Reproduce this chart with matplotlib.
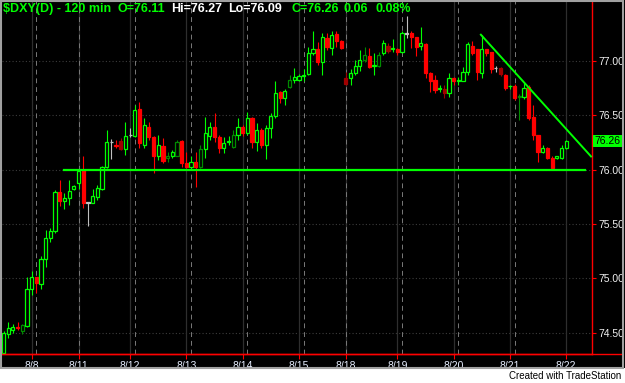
import numpy as np
import matplotlib
matplotlib.use("Agg")
import matplotlib.pyplot as plt
from matplotlib.lines import Line2D
from matplotlib.patches import Rectangle
from matplotlib.transforms import blended_transform_factory

plt.rcParams['font.family'] = ['Liberation Sans', 'DejaVu Sans']

# 120-min bars, $DXY(D)
OPEN = [74.31, 74.49, 74.52, 74.55, 74.51, 74.56, 74.90, 75.01, 74.95, 75.18,
        75.37, 75.43, 75.79, 75.71, 75.74, 75.82, 75.88, 76.00, 75.70, 75.69,
        75.75, 75.82, 76.02, 76.25, 76.23, 76.26, 76.19, 76.32, 76.31, 76.56,
        76.23, 76.39, 76.30, 76.12, 76.22, 76.11, 76.12, 76.12, 76.26, 76.06,
        76.02, 76.07, 76.02, 76.19, 76.31, 76.39, 76.30, 76.20, 76.25, 76.21,
        76.32, 76.39, 76.34, 76.47, 76.25, 76.36, 76.23, 76.38, 76.49, 76.71,
        76.66, 76.76, 76.82, 76.82, 76.86, 76.88, 77.07, 77.11, 76.99, 77.21,
        77.12, 77.25, 77.18, 76.84, 76.84, 76.89, 76.95, 77.01, 77.04, 76.95,
        76.95, 77.07, 77.14, 77.11, 77.11, 77.08, 77.26, 77.26, 77.22, 77.14,
        77.15, 76.89, 76.82, 76.74, 76.74, 76.70, 76.84, 76.81, 76.81, 76.90,
        77.14, 77.11, 76.89, 77.11, 77.08, 76.93, 76.93, 76.87, 76.77, 76.77,
        76.67, 76.67, 76.76, 76.48, 76.32, 76.16, 76.20, 76.11, 76.11, 76.11,
        76.20]
HIGH = [74.51, 74.60, 74.58, 74.60, 74.58, 75.01, 75.07, 75.01, 75.20, 75.44,
        75.46, 75.81, 75.90, 75.78, 75.90, 75.86, 76.00, 76.12, 75.70, 75.82,
        75.86, 76.03, 76.36, 76.28, 76.27, 76.29, 76.44, 76.38, 76.59, 76.62,
        76.47, 76.44, 76.31, 76.32, 76.29, 76.16, 76.18, 76.27, 76.27, 76.16,
        76.12, 76.16, 76.23, 76.48, 76.44, 76.52, 76.32, 76.30, 76.31, 76.36,
        76.47, 76.41, 76.53, 76.48, 76.43, 76.38, 76.41, 76.52, 76.81, 76.72,
        76.74, 76.87, 76.93, 76.88, 76.92, 77.13, 77.27, 77.17, 77.26, 77.26,
        77.27, 77.27, 77.19, 76.90, 76.92, 77.01, 77.10, 77.13, 77.12, 77.07,
        77.08, 77.19, 77.16, 77.20, 77.12, 77.27, 77.41, 77.27, 77.22, 77.31,
        77.16, 76.90, 76.87, 76.78, 76.78, 76.89, 76.85, 76.85, 76.94, 77.17,
        77.18, 77.11, 77.24, 77.11, 77.08, 76.95, 76.94, 76.88, 76.78, 76.79,
        76.69, 76.80, 76.78, 76.59, 76.32, 76.23, 76.21, 76.12, 76.12, 76.23,
        76.27]
LOW = [74.31, 74.45, 74.50, 74.52, 74.49, 74.55, 74.85, 74.86, 74.90, 75.10,
       75.33, 75.42, 75.66, 75.64, 75.67, 75.81, 75.82, 75.65, 75.48, 75.69,
       75.72, 75.81, 76.01, 76.10, 76.20, 76.18, 76.13, 76.30, 76.30, 76.20,
       76.20, 76.27, 75.97, 76.09, 76.06, 76.07, 76.11, 76.12, 76.02, 76.01,
       76.01, 75.84, 76.01, 76.11, 76.27, 76.25, 76.15, 76.15, 76.23, 76.20,
       76.27, 76.31, 76.32, 76.20, 76.17, 76.20, 76.10, 76.29, 76.47, 76.61,
       76.59, 76.75, 76.80, 76.81, 76.81, 76.87, 77.05, 76.96, 76.87, 77.10,
       77.05, 77.13, 77.11, 76.78, 76.78, 76.87, 76.91, 76.99, 76.93, 76.87,
       76.94, 77.05, 77.07, 77.08, 77.05, 77.07, 77.21, 77.12, 77.04, 77.10,
       76.84, 76.71, 76.70, 76.71, 76.66, 76.67, 76.78, 76.78, 76.81, 76.87,
       77.05, 76.82, 76.84, 77.04, 76.89, 76.90, 76.86, 76.73, 76.74, 76.64,
       76.46, 76.65, 76.46, 76.27, 76.07, 76.15, 76.10, 76.00, 76.10, 76.10,
       76.19]
CLOSE = [74.50, 74.54, 74.55, 74.54, 74.57, 74.90, 75.01, 74.96, 75.18, 75.37,
         75.43, 75.79, 75.71, 75.74, 75.80, 75.85, 75.99, 75.69, 75.69, 75.76,
         75.83, 76.02, 76.25, 76.25, 76.22, 76.19, 76.31, 76.32, 76.55, 76.24,
         76.41, 76.30, 76.12, 76.23, 76.08, 76.12, 76.16, 76.25, 76.06, 76.02,
         76.07, 76.02, 76.19, 76.34, 76.39, 76.30, 76.20, 76.24, 76.26, 76.32,
         76.39, 76.34, 76.47, 76.25, 76.36, 76.23, 76.38, 76.49, 76.70, 76.66,
         76.72, 76.82, 76.85, 76.86, 76.87, 77.07, 77.11, 76.99, 77.22, 77.13,
         77.24, 77.18, 77.12, 76.79, 76.89, 76.95, 77.01, 77.05, 76.94, 76.96,
         77.05, 77.16, 77.09, 77.12, 77.08, 77.26, 77.25, 77.22, 77.13, 77.16,
         76.89, 76.81, 76.73, 76.75, 76.70, 76.84, 76.81, 76.82, 76.90, 77.15,
         77.07, 76.90, 77.11, 77.07, 76.92, 76.93, 76.88, 76.75, 76.77, 76.66,
         76.68, 76.75, 76.47, 76.32, 76.16, 76.20, 76.11, 76.01, 76.12, 76.20,
         76.26]
# g = up, d = up (dark), r = down, m = down (dark), w = unchanged
KIND = list(("gggrdggrgg ggrggggrwg gggwrmgwgr grrgrdgdrr grdggrrggd "
             "grgrgrgggr gdgggggrgr grrmgggdrg dgmgrgwrrg rrrgmgrggg "
             "rrgrrwmrgr dgrrrgrrggg").replace(" ", ""))

DATE_POS = [6, 16, 27, 39, 51, 63, 73, 84, 96, 108, 120]
DATE_LABELS = ["8/8", "8/11", "8/12", "8/13", "8/14", "8/15",
               "8/18", "8/19", "8/20", "8/21", "8/22"]
SESSION_POS = [7, 16, 28, 40, 52, 64, 73, 85, 97, 109]
PRICE_TICKS = [74.50, 75.00, 75.50, 76.00, 76.50, 77.00]

SUPPORT_X = [12.9, 124.0]
SUPPORT_Y = [76.00, 76.00]
TREND_X = [101.8, 125.3]
TREND_Y = [77.24, 76.12]

COLORS = {"g": "#00ff00", "d": "#008c00", "r": "#ff0000",
          "m": "#a00000", "w": "#c0c0c0"}

W, H = 625, 383
fig = plt.figure(figsize=(W / 100, H / 100), dpi=100, facecolor="black")

# white strip at the bottom
fig.patches.append(Rectangle((0, 0), 1, 15 / H, transform=fig.transFigure,
                             facecolor="white", edgecolor="none", zorder=0))
fig.patches.append(Rectangle((0.5 / W, 15 / H), (W - 3) / W, (H - 15.5) / H,
                             transform=fig.transFigure, facecolor="none",
                             edgecolor="#a0a0a0", lw=1.5, zorder=5))

ax = fig.add_axes([2 / W, (H - 354) / H, 590 / W, 353 / H])
ax.set_facecolor("black")
ax.set_xlim(-0.32, 125.5)
ax.set_ylim(74.303, 77.55)

for p in PRICE_TICKS:
    ax.axhline(p, color="#3c3c3c", lw=0.8, ls=(0, (1, 2)), zorder=1)
for p in DATE_POS:
    ax.axvline(p, color="#2e2e2e", lw=0.9, zorder=1)
for p in SESSION_POS:
    ax.axvline(p, color="#7a7a7a", lw=0.7, ls=(0, (5, 4)), zorder=1)

n = len(CLOSE)
x = np.arange(n)
o = np.array(OPEN)
c = np.array(CLOSE)
cols = [COLORS[k] for k in KIND[:n]]
ax.vlines(x, LOW, HIGH, colors=cols, lw=0.8, zorder=2)
bottom = np.minimum(o, c)
height = np.maximum(np.abs(c - o), 0.002)
face = ["black" if k in "gdw" else COLORS[k] for k in KIND[:n]]
ax.bar(x, height, bottom=bottom, width=0.68, color=face, edgecolor=cols,
       lw=0.9, zorder=3)

ax.plot(SUPPORT_X, SUPPORT_Y, color="#00ff00", lw=1.6, zorder=4)
ax.plot(TREND_X, TREND_Y, color="#00ff00", lw=1.4, zorder=4, clip_on=False)

for s in ["left", "top"]:
    ax.spines[s].set_visible(False)
ax.spines["right"].set_color("#ff0000")
ax.spines["bottom"].set_color("#ff0000")
ax.spines["right"].set_linewidth(1)
ax.spines["bottom"].set_linewidth(1)

ax.yaxis.tick_right()
ax.set_yticks(PRICE_TICKS)
ax.set_yticklabels([f"{p:.2f}" for p in PRICE_TICKS])
ax.tick_params(axis="y", colors="#ff0000", labelcolor="#f0f0f0", length=3,
               width=0.8, pad=1.5, labelsize=7.5)
ax.set_xticks(DATE_POS)
ax.set_xticklabels(DATE_LABELS)
ax.tick_params(axis="x", colors="#ff0000", labelcolor="#e6eeff", length=3.5,
               width=0.8, pad=1.5, labelsize=7.5)

# bottom red line continues under the price scale
fig.add_artist(Line2D([0, 622 / W], [(H - 354) / H] * 2, color="#ff0000",
                      lw=1, transform=fig.transFigure))

# last price marker
tr = blended_transform_factory(ax.transAxes, ax.transData)
ax.text(1.004, CLOSE[-1], f"{CLOSE[-1]:.2f}", transform=tr, ha="left",
        va="center", fontsize=7.5, color="black", clip_on=False,
        bbox=dict(boxstyle="square,pad=0.12", fc="#00ff00", ec="none"))

# header
hy = 1 - 9 / H
hdr = [(3, "$DXY(D) - 120 min", "#00ff00"), (117, "O=76.11", "#00ff00"),
       (171, "Hi=76.27", "#ffffff"), (228, "Lo=76.09", "#ffffff"),
       (291, "C=76.26", "#00ff00"), (344, "0.06", "#00ff00"),
       (375, "0.08%", "#00ff00")]
for px, s, col in hdr:
    fig.text(px / W, hy, s, color=col, fontsize=9, fontweight="bold",
             va="center", ha="left")

fig.text(621 / W, 7 / H, "Created with TradeStation", color="black",
         fontsize=7, ha="right", va="center")

fig.savefig("out.png", dpi=100, facecolor="black")
